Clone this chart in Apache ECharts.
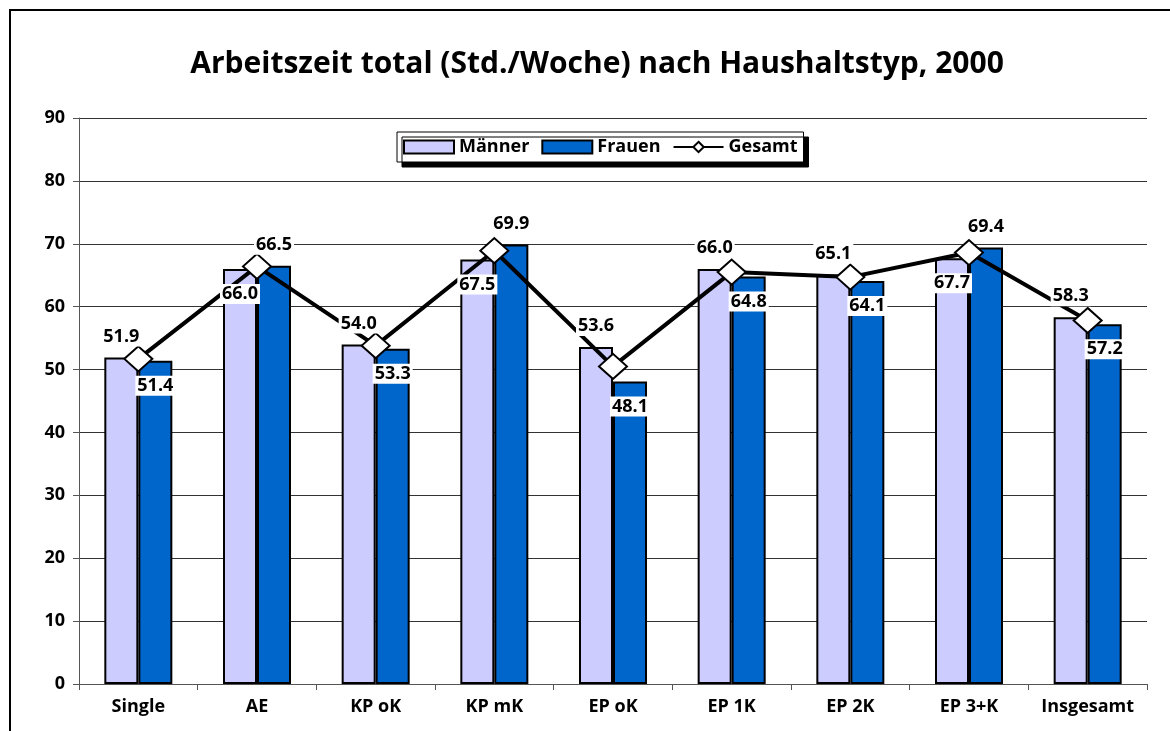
<!DOCTYPE html>
<html>
<head>
<meta charset="utf-8">
<script src="https://cdn.jsdelivr.net/npm/echarts@6/dist/echarts.min.js"></script>
<style>
html,body{margin:0;padding:0;background:#fff;}
#chart{width:1170px;height:731px;}
</style>
</head>
<body>
<div id="chart"></div>
<script>
// Arbeitszeit total nach Haushaltstyp
var categories = ['Single', 'AE', 'KP oK', 'KP mK', 'EP oK', 'EP 1K', 'EP 2K', 'EP 3+K', 'Insgesamt'];
var maenner = [51.9, 66.0, 54.0, 67.5, 53.6, 66.0, 65.1, 67.7, 58.3];
var frauen = [51.4, 66.5, 53.3, 69.9, 48.1, 64.8, 64.1, 69.4, 57.2];
var gesamt = [51.7, 66.4, 53.8, 68.9, 50.5, 65.5, 64.7, 68.6, 57.8];
var yTicks = [0, 10, 20, 30, 40, 50, 60, 70, 80, 90];

// Excel-artige Platzierung der Datenbeschriftungen
var posM = ['top', 'insideTop', 'top', 'insideTop', 'top', 'top', 'top', 'insideTop', 'top'];
var posF = ['insideTop', 'top', 'insideTop', 'top', 'insideTop', 'insideTop', 'insideTop', 'top', 'insideTop'];

var fontName = '"Open Sans", sans-serif';

function labelData(values, pos){
    return values.map(function(v, i){
        return {
            value: v,
            label: {position: pos[i], distance: pos[i] == 'top' ? 11 : 15}
        };
    });
}

var labelStyle = {
    show: true,
    color: '#000',
    fontFamily: fontName,
    fontWeight: 'bold',
    fontSize: 18,
    backgroundColor: '#fff',
    padding: [1, 2],
    formatter: function(p){ return p.value.toFixed(1); }
};

var chart = echarts.init(document.getElementById('chart'));
var option = {
    backgroundColor: '#fff',
    animation: false,
    title: {
        text: 'Arbeitszeit total (Std./Woche) nach Haushaltstyp, 2000',
        left: 592,
        textAlign: 'center',
        top: 44,
        textStyle: {fontFamily: fontName, fontWeight: 'bold', fontSize: 30, color: '#000'}
    },
    legend: {
        left: 397,
        top: 132,
        padding: [6, 6, 6, 6],
        itemWidth: 50,
        itemHeight: 13,
        itemGap: 12,
        backgroundColor: '#fff',
        borderColor: '#000',
        borderWidth: 1,
        shadowColor: '#000',
        shadowBlur: 0,
        shadowOffsetX: 5,
        shadowOffsetY: 5,
        textStyle: {fontFamily: fontName, fontWeight: 'bold', fontSize: 18, color: '#000'},
        data: [
            {name: 'Männer', icon: 'rect'},
            {name: 'Frauen', icon: 'rect'},
            {name: 'Gesamt'}
        ]
    },
    graphic: [{
        type: 'rect',
        shape: {x: 10, y: 10, width: 1180, height: 740},
        style: {fill: 'none', stroke: '#000', lineWidth: 2},
        silent: true
    }],
    grid: {left: 79, right: 23, top: 118, bottom: 47},
    xAxis: [{
        type: 'category',
        data: categories,
        axisLine: {lineStyle: {color: '#555', width: 1}},
        axisTick: {show: true, interval: 0, length: 6, lineStyle: {color: '#555'}},
        axisLabel: {interval: 0, fontFamily: fontName, fontWeight: 'bold', fontSize: 18, color: '#000', margin: 14}
    }, {
        type: 'category',
        data: categories,
        show: false
    }],
    yAxis: {
        type: 'value',
        min: 0,
        max: 90,
        interval: 10,
        axisLine: {show: true, lineStyle: {color: '#555'}},
        axisTick: {show: true, length: 6, lineStyle: {color: '#555'}},
        splitLine: {lineStyle: {color: '#333', width: 1}},
        axisLabel: {
            fontFamily: fontName, fontWeight: 'bold', fontSize: 18, color: '#000', margin: 14,
            formatter: function(v){ return yTicks.indexOf(v) >= 0 ? String(v) : ''; }
        }
    },
    series: [
        {
            name: 'Männer',
            type: 'bar',
            data: maenner,
            barWidth: 34,
            barGap: '0%',
            itemStyle: {color: '#CCCCFF', borderColor: '#000', borderWidth: 2},
            z: 2
        },
        {
            name: 'Frauen',
            type: 'bar',
            data: frauen,
            barWidth: 34,
            barGap: '0%',
            itemStyle: {color: '#0066CC', borderColor: '#000', borderWidth: 2},
            z: 2
        },
        {
            name: 'Gesamt',
            type: 'line',
            data: gesamt,
            symbol: 'diamond',
            symbolSize: [28, 25],
            lineStyle: {color: '#000', width: 4},
            itemStyle: {color: '#fff', borderColor: '#000', borderWidth: 2},
            z: 3
        },
        // Beschriftungen ueber der Linie
        {
            name: 'lblM',
            type: 'bar',
            xAxisIndex: 1,
            data: labelData(maenner, posM),
            barWidth: 34,
            barGap: '0%',
            itemStyle: {color: 'rgba(0,0,0,0)'},
            label: labelStyle,
            silent: true,
            z: 5
        },
        {
            name: 'lblF',
            type: 'bar',
            xAxisIndex: 1,
            data: labelData(frauen, posF),
            barWidth: 34,
            barGap: '0%',
            itemStyle: {color: 'rgba(0,0,0,0)'},
            label: labelStyle,
            silent: true,
            z: 5
        }
    ]
};
chart.setOption(option);
</script>
</body>
</html>
